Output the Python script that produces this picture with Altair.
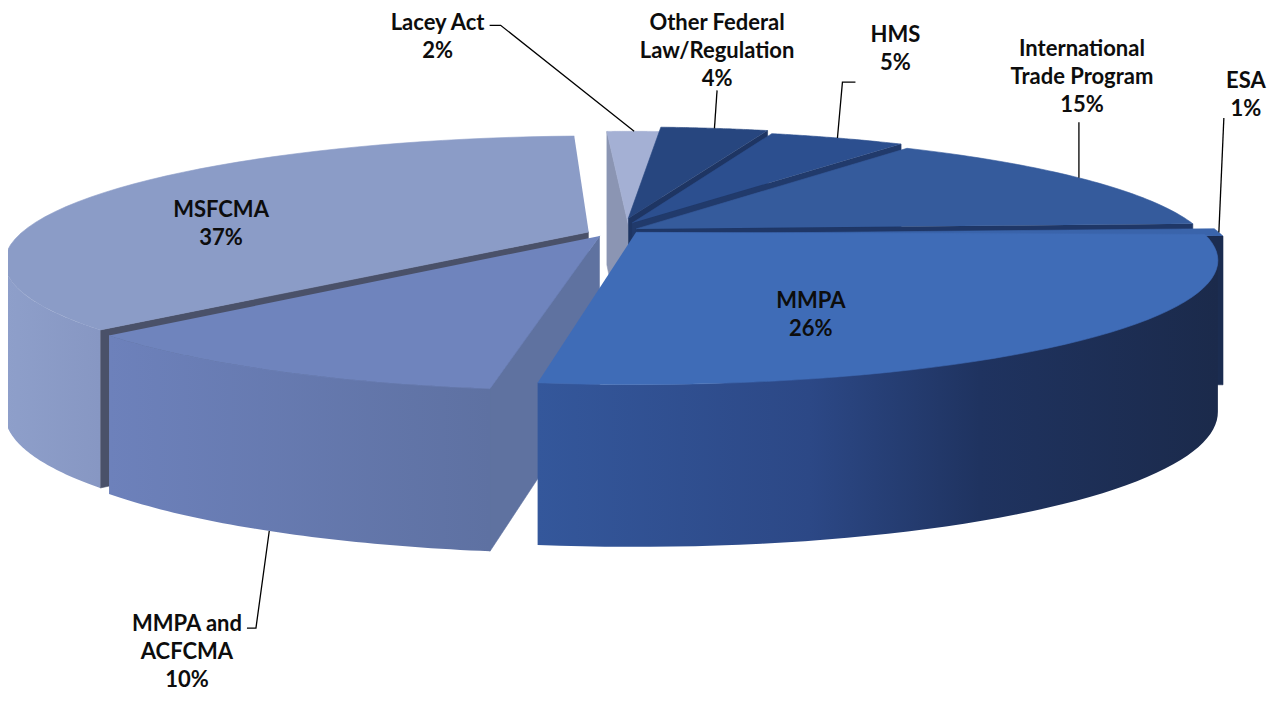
import math
import altair as alt
import pandas as pd

# ---------------- data ----------------
categories = ["Other Federal Law/Regulation", "HMS", "International Trade Program", "ESA",
              "MMPA", "MMPA and ACFCMA", "MSFCMA", "Lacey Act"]
values = [4, 5, 15, 1, 26, 10, 37, 2]
label_text = ["Other Federal\nLaw/Regulation", "HMS", "International\nTrade Program", "ESA",
              "MMPA", "MMPA and\nACFCMA", "MSFCMA", "Lacey Act"]

df = pd.DataFrame({"idx": list(range(len(categories))), "cat": categories,
                   "value": values, "lab": label_text})

# ---------------- view / 3D projection settings ----------------
W, H = 1263, 686
X0, Y0 = 8, 8
CX, CY = 634, 230
F, D, CT, ST = 2460.0, 4.36, 0.98, 0.207
DEPA, DEPB = 148, 14          # wall depth in px: DEPA + DEPB * (depth position on the disc)
DELTA, WARP = 4.0, 3.0
N = 48
SIL = math.acos(-CT / D)
TWO_PI = 2 * math.pi

EXPLODE = {
    "MMPA": (0.0035, 0.02),
    "ESA": (0.032, 0.034),
    "International Trade Program": (0.0035, -0.009),
    "HMS": (-0.0035, -0.06),
    "Other Federal Law/Regulation": (-0.0105, -0.10),
    "Lacey Act": (-0.01, -0.043),
    "MSFCMA": (-0.08, 0.017),
    "MMPA and ACFCMA": (-0.06, 0.05),
}

TOP = {
    "Other Federal Law/Regulation": "#27467f",
    "HMS": "#2c4f8f",
    "International Trade Program": "#355b9c",
    "ESA": "#3a64ab",
    "MMPA": "#3f6cb7",
    "MMPA and ACFCMA": "#6f84bd",
    "MSFCMA": "#8b9cc7",
    "Lacey Act": "#a4b0d4",
}
CUT = {
    "Other Federal Law/Regulation": "#1e3563",
    "HMS": "#213a6b",
    "International Trade Program": "#1f3767",
    "ESA": "#1b2c50",
    "MMPA": "#1e3360",
    "MMPA and ACFCMA": "#5f72a0",
    "MSFCMA": "#4a5169",
    "Lacey Act": "#8b95b3",
}
DARK_WALL = [(0, "#1c2c4e"), (1, "#1c2c4e")]
WALL = {
    "MMPA": [(0, "#34579b"), (0.4, "#2c4886"), (0.65, "#1f3360"), (1, "#1b2a4b")],
    "MMPA and ACFCMA": [(0, "#6d81bb"), (1, "#5e71a2")],
    "MSFCMA": [(0, "#8e9fca"), (1, "#8797c3")],
}

DRAW_ORDER = ["MSFCMA", "Lacey Act", "Other Federal Law/Regulation", "HMS",
              "International Trade Program", "ESA", "MMPA and ACFCMA", "MMPA"]

# label offsets (first text line) and leader elbows, relative to the slice anchor
LABELS = {
    "Lacey Act": dict(r=1, bot=0, off=(-196.5, -108), lead=[(-133.5, -106), (-144.5, -106)]),
    "Other Federal Law/Regulation": dict(r=1, bot=0, off=(2.6, -105), lead=[(2.6, -38), (2.6, -38)]),
    "HMS": dict(r=1, bot=0, off=(58, -102.8), lead=[(5, -55.8), (18, -55.8)]),
    "International Trade Program": dict(r=1, bot=0, off=(3, -128.7), lead=[(0, -55.7), (0, -55.7)]),
    "ESA": dict(r=1, bot=0, off=(27, -151.4), lead=[(5, -114.4), (5, -114.4)]),
    "MMPA": dict(r=0.6, bot=0, off=(-75, 9.3), lead=None),
    "MMPA and ACFCMA": dict(r=1, bot=1, off=(-82.3, 93), lead=[(-13.3, 97), (-22.3, 97)]),
    "MSFCMA": dict(r=0.75, bot=0, off=(-4, 10.5), lead=None),
}


def ang_expr(f):
    return f"((({f})*360 + {DELTA} - {WARP}*sin(({f})*2*PI))*PI/180)"


def proj(xe, ye, bot="0"):
    z = f"({D} - ({ye})*{CT})"
    return (f"({CX} + {F}*({xe})/{z})",
            f"({CY} + {F}*({ye})*{ST}/{z} + ({bot})*({DEPA} + {DEPB}*({ye})))")


XS = alt.Scale(domain=[X0, X0 + W], nice=False, zero=False)
YS = alt.Scale(domain=[Y0, Y0 + H], nice=False, zero=False, reverse=True)


def xy(fx, fy):
    return dict(x=alt.X(f"{fx}:Q", scale=XS, axis=None),
                y=alt.Y(f"{fy}:Q", scale=YS, axis=None))


def base(cat):
    ex, ey = EXPLODE[cat]
    return (alt.Chart(df)
            .transform_joinaggregate(total="sum(value)")
            .transform_window(cum="sum(value)", sort=[alt.SortField("idx")], frame=[None, 0])
            .transform_calculate(f0="(datum.cum - datum.value) / datum.total")
            .transform_calculate(f1="datum.cum / datum.total")
            .transform_calculate(a0=ang_expr("datum.f0"))
            .transform_calculate(a1=ang_expr("datum.f1"))
            .transform_calculate(am=ang_expr("(datum.f0 + datum.f1) / 2"))
            .transform_filter(alt.datum.cat == cat)
            .transform_calculate(ex=f"{ex}")
            .transform_calculate(ey=f"{ey}"))


def place(ch):
    sx, sy = proj("datum.r*sin(datum.ang) + datum.ex",
                  "-datum.r*cos(datum.ang) + datum.ey", "datum.bot")
    return ch.transform_calculate(sx=sx).transform_calculate(sy=sy)


def top_layer(cat):
    ch = (base(cat)
          .transform_calculate(k=f"sequence(0, {N + 2})").transform_flatten(["k"])
          .transform_calculate(r="datum.k == 0 ? 0 : 1")
          .transform_calculate(bot="0")
          .transform_calculate(ang=f"datum.a0 + (datum.a1 - datum.a0) * (datum.k - 1) / {N}"))
    ch = place(ch)
    return ch.mark_line(filled=True, fill=TOP[cat], stroke=TOP[cat], strokeWidth=0.6,
                        strokeJoin="round").encode(**xy("sx", "sy"), order=alt.Order("k:Q"))


def wall_layer(cat):
    ch = (base(cat)
          .transform_calculate(w0=f"max(datum.a0, {SIL})")
          .transform_calculate(w1=f"min(datum.a1, {TWO_PI - SIL})")
          .transform_filter("datum.w1 > datum.w0")
          .transform_calculate(k=f"sequence(0, {2 * N + 2})").transform_flatten(["k"])
          .transform_calculate(t=f"datum.k <= {N} ? datum.k / {N} : ({2 * N + 1} - datum.k) / {N}")
          .transform_calculate(bot=f"datum.k <= {N} ? 0 : 1")
          .transform_calculate(r="1")
          .transform_calculate(ang="datum.w0 + (datum.w1 - datum.w0) * datum.t"))
    ch = place(ch)
    stops = WALL.get(cat, DARK_WALL)
    g = alt.Gradient(gradient="linear",
                     stops=[alt.GradientStop(color=c, offset=o) for o, c in stops],
                     x1=0, x2=1, y1=0, y2=0)
    return ch.mark_line(filled=True, fill=g).encode(**xy("sx", "sy"), order=alt.Order("k:Q"))


def cut_layer(cat, which):
    ax, ay = proj("datum.ex", "datum.ey")
    rx, ry = proj(f"sin(datum.{which}) + datum.ex", f"-cos(datum.{which}) + datum.ey")
    px, py = proj("sin(datum.am) + datum.ex", "-cos(datum.am) + datum.ey")
    ch = (base(cat)
          .transform_calculate(Ax=ax).transform_calculate(Ay=ay)
          .transform_calculate(Rx=rx).transform_calculate(Ry=ry)
          .transform_calculate(Px=px).transform_calculate(Py=py)
          .transform_calculate(cr="(datum.Rx - datum.Ax)*(datum.Py - datum.Ay) - (datum.Ry - datum.Ay)*(datum.Px - datum.Ax)")
          .transform_filter("datum.cr * (datum.Rx - datum.Ax) < 0")
          .transform_calculate(k="sequence(0, 4)").transform_flatten(["k"])
          .transform_calculate(r="(datum.k == 1 || datum.k == 2) ? 1 : 0")
          .transform_calculate(bot="datum.k >= 2 ? 1 : 0")
          .transform_calculate(ang=f"datum.{which}"))
    ch = place(ch)
    return ch.mark_line(filled=True, fill=CUT[cat], stroke=CUT[cat], strokeWidth=0.6,
                        strokeJoin="round").encode(**xy("sx", "sy"), order=alt.Order("k:Q"))


def anchor(cat, spec):
    ch = (base(cat)
          .transform_calculate(r=f"{spec['r']}")
          .transform_calculate(bot=f"{spec['bot']}")
          .transform_calculate(ang="datum.am"))
    return place(ch)


def leader_layer(cat, spec):
    (p1x, p1y), (p2x, p2y) = spec["lead"]
    ch = (anchor(cat, spec)
          .transform_calculate(k="sequence(0, 3)").transform_flatten(["k"])
          .transform_calculate(px=f"datum.sx + (datum.k == 1 ? {p1x} : datum.k == 2 ? {p2x} : 0)")
          .transform_calculate(py=f"datum.sy + (datum.k == 1 ? {p1y} : datum.k == 2 ? {p2y} : 0)"))
    return ch.mark_line(color="black", strokeWidth=1.3).encode(**xy("px", "py"), order=alt.Order("k:Q"))


def label_layer(cat, spec):
    ox, oy = spec["off"]
    ch = (anchor(cat, spec)
          .transform_calculate(lx=f"datum.sx + ({ox})")
          .transform_calculate(ly=f"datum.sy + ({oy})")
          .transform_calculate(txt="datum.lab + '\\n' + datum.value + '%'"))
    return ch.mark_text(font="Lato", fontSize=22, fontWeight="bold", lineBreak="\n",
                        lineHeight=28, color="#0d0d0d", align="center",
                        baseline="middle").encode(**xy("lx", "ly"), text="txt:N")


layers = []
for cat in DRAW_ORDER:
    layers += [cut_layer(cat, "a0"), cut_layer(cat, "a1"), wall_layer(cat), top_layer(cat)]
for cat in categories:
    spec = LABELS[cat]
    if spec["lead"]:
        layers.append(leader_layer(cat, spec))
for cat in categories:
    layers.append(label_layer(cat, LABELS[cat]))

chart = (alt.layer(*layers)
         .properties(width=W, height=H, padding=0, autosize="none", background="white")
         .configure_view(stroke=None))

chart.save("out.html", embed_options={"renderer": "svg", "actions": False})
